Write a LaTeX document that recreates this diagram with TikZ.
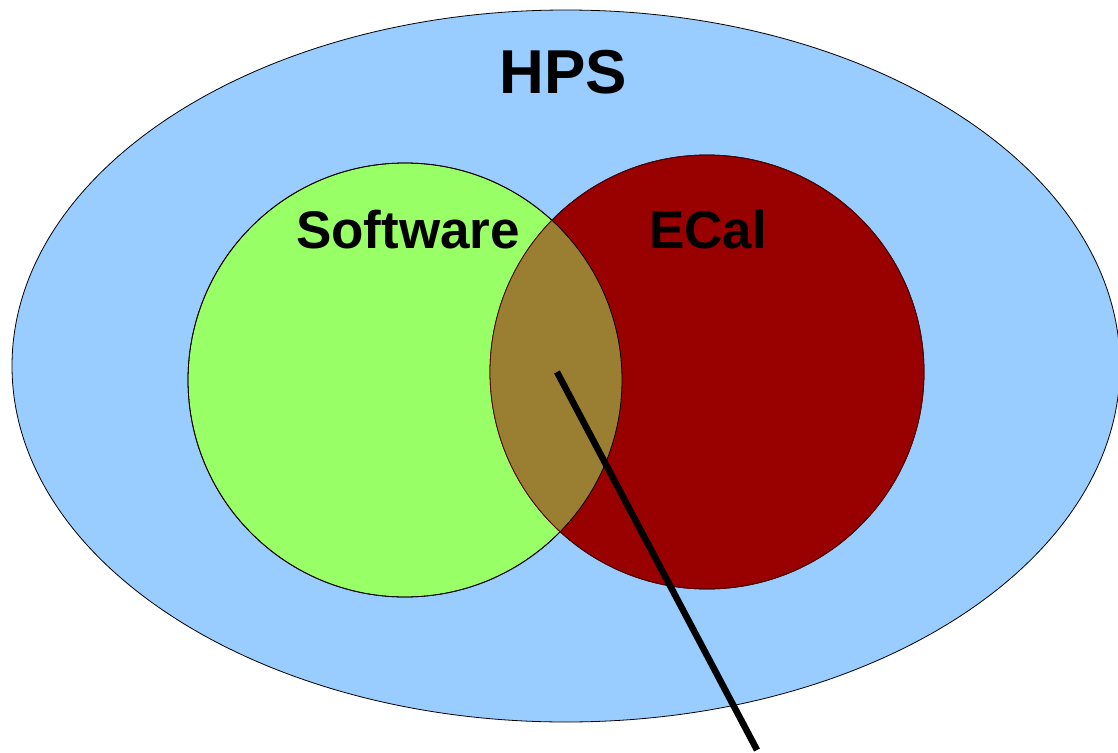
\documentclass[tikz,border=0pt]{standalone}
\usepackage{fontspec}
\setmainfont{Liberation Sans}
\definecolor{hpsblue}{HTML}{99CCFF}
\definecolor{swgreen}{HTML}{99FF66}
\definecolor{ecred}{HTML}{990000}
\definecolor{olive}{HTML}{9A7F33}
\tikzset{
  lbl/.style={font=\bfseries, text=black, inner sep=0pt, anchor=base},
  pointer/.style={line width=6.5pt, black}
}
\begin{document}
\begin{tikzpicture}[x=1pt,y=-1pt]
\useasboundingbox (0,0) rectangle (1118,752);
\fill[white] (0,0) rectangle (1118,752);
% HPS ellipse
\draw[fill=hpsblue, line width=0.8pt] (566,366) ellipse [x radius=554, y radius=356];
% Software circle
\draw[fill=swgreen, line width=0.8pt] (405,380) circle [radius=217];
% ECal circle
\draw[fill=ecred, line width=0.8pt] (707,372) circle [radius=217];
% overlap
\begin{scope}
  \clip (405,380) circle [radius=217];
  \fill[olive] (707,372) circle [radius=217];
\end{scope}
\draw[line width=0.8pt] (405,380) circle [radius=217];
\draw[line width=0.8pt, ecred!60!black] (707,372) circle [radius=217];
% labels
\node[lbl, font=\fontsize{62}{62}\selectfont\bfseries] (hps) at (563,93) {HPS};
\node[lbl, font=\fontsize{53}{53}\selectfont\bfseries] (sw) at (408,248) {Software};
\node[lbl, font=\fontsize{53}{53}\selectfont\bfseries] (ec) at (708,248) {ECal};
% pointer
\coordinate (p1) at (557,372);
\coordinate (p2) at (757,750);
\draw[pointer] (p1) -- (p2);
\end{tikzpicture}
\end{document}
